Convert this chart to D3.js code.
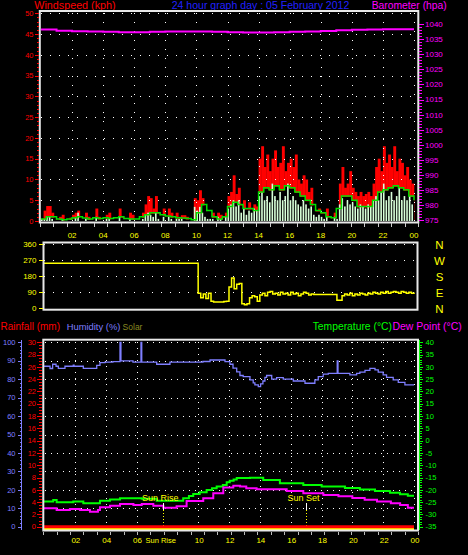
<!DOCTYPE html>
<html><head><meta charset="utf-8">
<script src="https://cdn.jsdelivr.net/npm/d3@7"></script>
<style>html,body{margin:0;padding:0;background:#000;}svg{display:block;}text{font-family:"Liberation Sans",Arial,sans-serif;}</style>
</head><body><svg id="c" width="468" height="555"></svg>
<script>
// ---------------- DATA ----------------
const titleText = "24 hour graph day : 05 February 2012";
const hoursAxis = [2,4,6,8,10,12,14,16,18,20,22,24];
const hourLabelsTop = ["02","04","06","08","10","12","14","16","18","20","22","00"];
const hourLabelsBottom = ["02","04","06","Sun Rise","10","12","14","16","18","20","22","00"];
const sunTimes = [7.7, 16.99];
const sunLabels = ["Sun Rise", "Sun Set"];
const compassLabels = ["N","W","S","E","N"];
const dirTicks = [360,270,180,90,0];

// wind gust (kph), 10-minute steps from 00:00
const gust = [0.5,2.5,3.6,3.6,2,0.5,
  0,1,1.5,0,0,0.8,1.5,
  2,2.5,0,0,2,1,0,0.5,3,1,0,0,
  1.5,2,0,0,0.5,3,1,0,0,2,1.5,0,
  0,0.5,2,4,6,5.5,3,6,2,0,3,1,
  3,2,0.5,2,1,1.4,1.4,1,0,0,5.5,5,
  7.4,5.5,3,2,1.5,2,1,2,1.5,1,2,6,
  7,11,6.5,8,4,5,3,4.5,3,4,3.5,15,
  18,13,16,12,15,17,13,14,18,12,14,15,13,16,10,9,11,
  10,7,8,3,2.5,3,2,
  2,3,1,0.5,2,1,
  9,13,8,9,12,8,
  7,6,7,6,6.5,7,6,
  9,13,15,12,18,14,16,13,18,12,15,14,11,13,10,9];
// wind speed (kph), 10-minute steps
const windSpeed = [0.5,0.5,1,1,0.5,0,0,0,0.5,0,0,0,0,
  1,2,0,0,0.5,0,0,0,1,0,0,0,
  0.5,0.5,0,0,0,1,0,0,0,0.5,0,0,
  0,0,0.5,1.5,2,1.5,1,2,0.5,0,1,0,
  1,0.5,0,0.5,0.5,0.5,0,0,0,0,3.4,2.5,
  3.4,2,1,0.5,0.5,0.5,0,1,0.5,0,1,3,
  4,5,3.5,5,2,3,1.5,2.5,2,3,2.5,6,
  7,5,6,4.5,9,6,5,7,5,6,9,5,6,5,4,3.5,5,
  4,3,3.5,1.5,1,1.5,1,
  0.5,1,0,0,1,0.5,
  4,5.5,3.5,5,4,4.5,
  3.5,3,4,3.5,3,4,3.5,
  5,6,5,7,9,5,6,7,5,6,8,5,6,5,6,4];
// average wind (kph), 20-minute steps
const windAvg = [0.5,1,1,0.5,0.3,0.5,
  0.8,1,0.7,0.5,0.8,0.6,
  0.8,0.6,0.8,1,0.6,0.5,
  0.5,1,1.5,2,2,1.5,
  1.2,1,0.8,0.7,0.6,0.3,
  2,4,2.5,1,0.5,1,
  3.5,4.5,4,3,3,2.5,
  7,8,7.5,8.5,7.5,8.5,8,7,6,
  5,4,2.5,
  2,1,0.8,
  3,6,6,
  5,3.5,3.5,
  3.5,5,7,7.5,8,8.5,8,7.5,6,5];
// barometer (hPa), hourly
const barometer = [1038.2,1037.8,1037.6,1037.5,1037.4,1037.3,1037.3,1037.4,1037.5,1037.5,1037.5,1037.4,1037.3,1037.2,1037.2,1037.3,1037.4,1037.5,1037.7,1037.9,1038.1,1038.2,1038.3,1038.3,1038.3];
// wind direction: constant during the night, then 10-minute steps from 10:00
const dirNight = 253;
const dirDayStart = 10;
const dirDay = [85,60,80,55,85,
  40,35,35,35,35,
  38,40,
  120,170,110,135,140,
  25,20,25,
  60,70,65,40,
  75,85,70,90,95,80,85,75,90,80,85,75,90,80,85,70,80,90,85,75,80,
  78,78,78,78,78,78,78,78,78,
  45,45,
  70,80,75,85,70,80,75,85,80,75,85,80,90,85,80,90,85,95,85,90,95,90,85,95,90,85,90,85,80];
// humidity (%): [hour, value]
const humidity = [[0,87],[0.39,85.8],[0.56,88.1],[0.78,87],[0.93,85.9],[1.36,87],[1.9,87.6],[1.95,87],[2.55,85.9],[3.42,87.5],[3.63,89],[3.96,89.2],[4.47,89.5],[4.93,100],[4.99,89.9],[5.77,89.2],[6.29,100],[6.34,89.2],[7.31,88.1],[8.17,89.2],[10.31,89.6],[10.77,90.4],[11.74,89.5],[12.06,88.1],[12.26,86],[12.5,84],[12.71,82],[12.92,81.4],[13.36,79.6],[13.57,78],[13.68,76.9],[13.9,76],[14.05,77.5],[14.2,79],[14.33,81],[14.44,82],[14.77,80],[15.09,80.8],[15.52,80],[16.17,79],[16.93,77.8],[17.57,79.6],[17.79,81.4],[18.11,82.7],[18.44,83.2],[19.02,89.9],[19.07,83.2],[19.84,82.3],[20.28,83.2],[20.49,83.8],[20.82,84.8],[21.14,85.9],[21.47,85],[21.68,83.8],[22.0,82.3],[22.22,81],[22.65,79.6],[22.98,78.3],[23.41,76.9],[24,76.9]];
// temperature (°C): [hour, value]
const temperature = [[0,-24.8],[0.6,-24.1],[0.82,-25.1],[1.9,-24.8],[2.55,-25.5],[3.63,-24.4],[4.28,-23.9],[4.93,-23.4],[6.34,-23.6],[7.31,-24.4],[9.03,-23.4],[9.4,-22.5],[9.68,-21.7],[10.1,-21],[10.55,-20.1],[10.9,-19.4],[11.2,-18.7],[11.6,-18.0],[11.85,-16.9],[12.05,-16.3],[12.3,-15.8],[12.5,-15.2],[13.36,-15.1],[14.22,-16],[15.3,-17.3],[16.82,-18],[18.01,-18.7],[19.52,-19.3],[20.49,-19.9],[21.47,-20.5],[22.44,-21.2],[23.09,-21.8],[23.6,-22.4],[24,-22.4]];
// dew point (°C): [hour, value]
const dewPoint = [[0,-27.5],[0.82,-28.2],[1.68,-27.8],[2.33,-28.2],[2.98,-28.9],[3.5,-28.2],[3.63,-27.1],[4.28,-26.5],[4.93,-25.8],[5.8,-26.2],[6.34,-25.8],[7.09,-26.5],[7.74,-27.3],[8.6,-26.7],[9.25,-24.5],[10.33,-23.4],[10.98,-21.4],[11.63,-19.1],[12.28,-18.3],[12.72,-18.7],[13.12,-19.4],[13.79,-19.8],[15.74,-20.5],[16.82,-21.4],[18.12,-22.1],[19.1,-22.6],[20.0,-23.3],[20.8,-24],[21.6,-24.8],[22.5,-25.5],[23.1,-26.2],[23.6,-27.3],[24,-27.3]];
// rainfall (mm) and solar, hourly
const rainfall = [0,0,0,0,0,0,0,0,0,0,0,0,0,0,0,0,0,0,0,0,0,0,0,0,0];
const solar = [0,0,0,0,0,0,0,0,0,0,0,0,0,0,0,0,0,0,0,0,0,0,0,0,0];

// ---------------- DRAW ----------------
const svg = d3.select("#c");
svg.append("rect").attr("width",468).attr("height",555).attr("fill","#000");

function txt(x,y,s,color,size,anchor,len){
  const t = svg.append("text").attr("x",x).attr("y",y).text(s)
    .attr("fill",color).attr("font-size",size).attr("text-anchor",anchor||"start");
  if(len) t.attr("textLength",len).attr("lengthAdjust","spacingAndGlyphs");
  return t;
}
function ln(x1,y1,x2,y2,color,w,dash){
  const l = svg.append("line").attr("x1",x1).attr("y1",y1).attr("x2",x2).attr("y2",y2)
    .attr("stroke",color).attr("stroke-width",w||1).attr("shape-rendering","crispEdges");
  if(dash) l.attr("stroke-dasharray",dash);
  return l;
}
const YEL = "#ffff00", RED = "#ff0000", MAG = "#ff00ff", GRN = "#00ff00", HUM = "#7f7fff", FRAME = "#e8e8e8";

// ===== TOP PANEL =====
const xTop = d3.scaleLinear([0,24],[41,414]);
const yWind = d3.scaleLinear([0,50],[221,13.3]);
const yBaro = d3.scaleLinear([975,1040],[220.4,24]);

txt(34.3,9,"Windspeed (kph)",RED,10.5,"start",81.3);
txt(171.7,9,titleText,"#2020ff",10.5,"start",177.6);
txt(371.7,9,"Barometer (hpa)",MAG,10.5,"start",75);

const step = 1/6;
svg.append("g").selectAll("rect").data(gust).join("rect")
  .attr("x",(d,i)=>xTop(i*step)).attr("width",(d,i)=>xTop((i+1)*step)-xTop(i*step)+0.3)
  .attr("y",d=>yWind(d)).attr("height",d=>yWind(0)-yWind(d)).attr("fill",RED);
// black area below the average wind line
const avgPts = windAvg.map((v,i)=>[i/3,v]);
svg.append("path").datum(avgPts)
  .attr("d",d3.area().x(d=>xTop(d[0])).y0(yWind(0)).y1(d=>yWind(d[1])+1).curve(d3.curveStepAfter))
  .attr("fill","#000");

d3.range(5,51,5).forEach(v=>ln(41,Math.round(yWind(v))+0.5,417,Math.round(yWind(v))+0.5,"#fff",1,"1,8"));
hoursAxis.forEach(h=>ln(Math.round(xTop(h))+0.5,13,Math.round(xTop(h))+0.5,221,"#fff",1,"1,8"));

svg.append("g").selectAll("rect").data(windSpeed).join("rect")
  .attr("x",(d,i)=>xTop(i*step)).attr("width",(d,i)=>(xTop((i+1)*step)-xTop(i*step))*0.62)
  .attr("y",d=>yWind(d)).attr("height",d=>yWind(0)-yWind(d)).attr("fill","#d8ffd8");
svg.append("path").datum(avgPts)
  .attr("d",d3.line().x(d=>xTop(d[0])).y(d=>yWind(d[1])).curve(d3.curveStepAfter))
  .attr("fill","none").attr("stroke","#00e000").attr("stroke-width",1.5);
svg.append("path").datum(barometer)
  .attr("d",d3.line().x((d,i)=>xTop(i)).y(d=>yBaro(d)).curve(d3.curveStepAfter))
  .attr("fill","none").attr("stroke",MAG).attr("stroke-width",2);

svg.append("rect").attr("x",39.8).attr("y",11).attr("width",378.5).attr("height",211.5)
  .attr("fill","none").attr("stroke",FRAME).attr("stroke-width",2);

d3.range(0,51,1).forEach(v=>{const y=Math.round(yWind(v))+0.5; ln(v%5===0?34.5:36.5,y,39,y,RED,1);});
d3.range(0,51,5).forEach(v=>txt(33.5,yWind(v)+2.7,String(v),RED,7.5,"end"));
d3.range(975,1041,1).forEach(v=>{const y=Math.round(yBaro(v))+0.5; ln(419,y,v%5===0?423.5:421.5,y,MAG,1);});
d3.range(975,1041,5).forEach(v=>txt(425,yBaro(v)+2.9,String(v),MAG,8,"start"));

const xTickTop = d3.scaleLinear([0,28],[39.8,418.3]);
d3.range(0,29).forEach(k=>{const x=Math.round(xTickTop(k))+0.5; ln(x,223,x,226.5,"#cccccc",1);});
hoursAxis.forEach((h,i)=>txt(xTop(h),237.5,hourLabelsTop[i],YEL,8,"middle"));

// ===== MIDDLE PANEL =====
const xBot = d3.scaleLinear([0,24],[44,414]);
const yDir = d3.scaleLinear([0,360],[308.3,244.3]);
dirTicks.filter(v=>v>0).forEach(v=>ln(44,Math.round(yDir(v))+0.5,417,Math.round(yDir(v))+0.5,"#fff",1,"1,8"));
const dirPts = [[0,dirNight]].concat(dirDay.map((v,i)=>[dirDayStart+i/6,v]));
dirPts.push([24,dirDay[dirDay.length-1]]);
svg.append("path").datum(dirPts)
  .attr("d",d3.line().x(d=>xBot(d[0])).y(d=>yDir(d[1])).curve(d3.curveStepAfter))
  .attr("fill","none").attr("stroke",YEL).attr("stroke-width",1.5);
svg.append("rect").attr("x",43.5).attr("y",242.5).attr("width",374).attr("height",67.2)
  .attr("fill","none").attr("stroke",FRAME).attr("stroke-width",2);
dirTicks.forEach((v,i)=>{
  const y=Math.round(yDir(v))+0.5;
  ln(38.5,y,42.5,y,YEL,1);
  txt(36.5,yDir(v)+2.9,String(v),YEL,8,"end");
  txt(439.5,yDir(v)+4.2,compassLabels[i],YEL,11.5,"middle");
});

// ===== BOTTOM PANEL =====
const yHum = d3.scaleLinear([0,100],[526.7,342.3]);
const yRain = d3.scaleLinear([0,30],[526.7,342.3]);
const yTemp = d3.scaleLinear([-35,40],[526.7,342.3]);
const ySolar = d3.scaleLinear([0,1200],[529.3,342.3]);

txt(0.5,330,"Rainfall (mm)",RED,10.5,"start",59.5);
txt(66.7,330,"Humidity (%)",HUM,9.4,"start");
txt(122.6,330,"Solar","#8a8a20",8.5,"start");
txt(312.7,330,"Temperature (°C)",GRN,10.5,"start",79.2);
txt(392.5,330,"Dew Point (°C)",MAG,10.5,"start",69.2);

d3.range(10,101,10).forEach(v=>ln(45,Math.round(yHum(v))+0.5,417,Math.round(yHum(v))+0.5,"#fff",1,"1,5"));
hoursAxis.filter(h=>h!==8).forEach(h=>ln(Math.round(xBot(h))+0.5,342,Math.round(xBot(h))+0.5,526,"#fff",1,"1,5"));

function stepPath(data, y, color, w){
  svg.append("path").datum(data)
    .attr("d",d3.line().x(d=>xBot(d[0])).y(d=>y(d[1])).curve(d3.curveStepAfter))
    .attr("fill","none").attr("stroke",color).attr("stroke-width",w);
}
stepPath(humidity,yHum,HUM,1.3);
stepPath(temperature,yTemp,GRN,2);
stepPath(dewPoint,yTemp,MAG,2);

sunTimes.forEach((t,i)=>{
  const x=Math.round(xBot(t))+0.5;
  ln(x,503,x,510,"#fff",1);
  ln(x,510,x,526,YEL,1,"1,2");
  txt(xBot(t)-2.5,500.5,sunLabels[i],YEL,9,"middle");
});

svg.append("path").datum(solar)
  .attr("d",d3.line().x((d,i)=>xBot(i)).y(d=>ySolar(d)))
  .attr("fill","none").attr("stroke",YEL).attr("stroke-width",2.6);
svg.append("path").datum(rainfall)
  .attr("d",d3.line().x((d,i)=>xBot(i)).y(d=>yRain(d)))
  .attr("fill","none").attr("stroke",RED).attr("stroke-width",3);

svg.append("rect").attr("x",43.3).attr("y",339.7).attr("width",374.7).attr("height",190.8)
  .attr("fill","none").attr("stroke",FRAME).attr("stroke-width",2);

// humidity axis
ln(21.5,340,21.5,530,HUM,1.5);
d3.range(0,101,2).forEach(v=>{const y=Math.round(yHum(v))+0.5; ln(v%10===0?17.5:19.5,y,21.5,y,HUM,1);});
d3.range(0,101,10).forEach(v=>txt(15.5,yHum(v)+2.7,String(v),HUM,7.5,"end"));
// rain axis
d3.range(0,30.01,0.5).forEach(v=>{const y=Math.round(yRain(v))+0.5; ln(v%2===0?37.3:39.3,y,42,y,RED,1);});
d3.range(0,31,2).forEach(v=>txt(36,yRain(v)+2.7,String(v),RED,7.5,"end"));
// temperature axis
ln(419.5,340,419.5,530,GRN,1.5);
d3.range(-35,41,1).forEach(v=>{const y=Math.round(yTemp(v))+0.5; ln(419,y,v%5===0?423:421.5,y,GRN,1);});
d3.range(-35,41,5).forEach(v=>txt(425.5,yTemp(v)+2.7,String(v),GRN,7.5,"start"));

const xTickBot = d3.scaleLinear([0,28],[43.3,418]);
d3.range(0,29).forEach(k=>{const x=Math.round(xTickBot(k))+0.5; ln(x,531.5,x,534.5,"#bbbbbb",1);});
hoursAxis.forEach((h,i)=>{
  const x = hourLabelsBottom[i]==="Sun Rise" ? xBot(sunTimes[0])-2 : xBot(h)+1;
  txt(x,543,hourLabelsBottom[i],YEL,hourLabelsBottom[i].length>2?7.5:8,"middle");
});
</script></body></html>
